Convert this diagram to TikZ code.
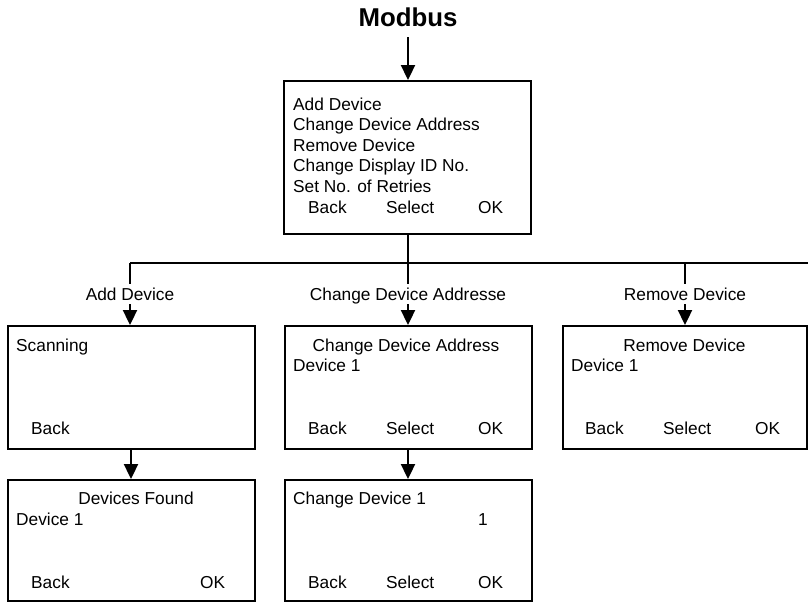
\documentclass[tikz,border=0pt]{standalone}
\usepackage{fontspec}
\setmainfont{Liberation Sans}
\usetikzlibrary{arrows.meta}
\newcommand{\fsz}{\fontsize{17.3}{20.6}\selectfont}
\begin{document}
\begin{tikzpicture}[x=1pt,y=-1pt,
  screen/.style={draw, line width=2.3pt, inner sep=0pt, anchor=north west, minimum width=247pt},
  txt/.style={inner sep=0pt, anchor=base west, font=\fsz},
  ctxt/.style={inner sep=0pt, anchor=base, font=\fsz},
  lbl/.style={inner sep=0pt, outer sep=4pt, text height=12pt, text depth=0pt, anchor=base, font=\fsz},
  conn/.style={line width=2.3pt},
  arr/.style={line width=2.3pt, -{Triangle[length=15pt,width=14pt]}}]
\useasboundingbox (0,0) rectangle (808,603);

% title
\node[inner sep=0pt, anchor=base, font=\fontsize{25.8}{30}\selectfont\bfseries] (title) at (408,26) {Modbus};
\coordinate (tstart) at (408,37);

% main box
\node[screen, minimum height=153pt] (main) at (283,80) {};
\node[txt] (m1) at (293,110) {Add Device};
\node[txt] (m2) at (293,130.6) {Change Device Address};
\node[txt] (m3) at (293,151.2) {Remove Device};
\node[txt] (m4) at (293,171.8) {Change Display ID No.};
\node[txt] (m5) at (293,192.4) {Set No. of Retries};
\node[txt] (mb) at (308,213) {Back};
\node[txt] (ms) at (386,213) {Select};
\node[txt] (mo) at (478,213) {OK};

\draw[arr] (tstart) -- (main.north -| tstart);

% branch line
\coordinate (bm) at (408,263);
\coordinate (ba) at (130,263);
\coordinate (bc) at (685,263);
\coordinate (be) at (808,263);
\draw[conn] (main.south -| bm) -- (bm);
\draw[conn] (ba) -- (be);

% labels
\node[lbl] (la) at (130,300) {Add Device};
\node[lbl] (lb) at (408,300) {Change Device Addresse};
\node[lbl] (lc) at (685,300) {Remove Device};

% row 2 boxes
\node[screen, minimum height=123pt] (boxa) at (7,325) {};
\node[screen, minimum height=123pt] (boxb) at (284,325) {};
\node[screen, minimum height=123pt, minimum width=244pt] (boxc) at (562,325) {};

\draw[conn] (ba) -- (la.north);
\draw[arr] (la.south) -- (la.south |- boxa.north);
\draw[conn] (bm) -- (lb.north);
\draw[arr] (lb.south) -- (lb.south |- boxb.north);
\draw[conn] (bc) -- (lc.north);
\draw[arr] (lc.south) -- (lc.south |- boxc.north);

\node[txt] (a1) at (16,351) {Scanning};
\node[txt] (ab) at (31,434) {Back};

\node[ctxt] (b1) at (406,351) {Change Device Address};
\node[txt] (b2) at (293,371) {Device 1};
\node[txt] (bb) at (308,434) {Back};
\node[txt] (bs) at (386,434) {Select};
\node[txt] (bo) at (478,434) {OK};

\node[ctxt] (c1) at (684.5,351) {Remove Device};
\node[txt] (c2) at (571,371) {Device 1};
\node[txt] (cb) at (585,434) {Back};
\node[txt] (cs) at (663,434) {Select};
\node[txt] (co) at (755,434) {OK};

% row 3 boxes
\node[screen, minimum height=121pt] (boxd) at (7,479) {};
\node[screen, minimum height=121pt] (boxe) at (284,479) {};

\coordinate (da) at (131,0);
\draw[arr] (boxa.south -| da) -- (boxd.north -| da);
\draw[arr] (boxb.south -| bm) -- (boxe.north -| bm);

\node[ctxt] (d1) at (136,504) {Devices Found};
\node[txt] (d2) at (16,525) {Device 1};
\node[txt] (db) at (31,588) {Back};
\node[txt] (do) at (200,588) {OK};

\node[txt] (e1) at (293,504) {Change Device 1};
\node[txt] (e2) at (478,525) {1};
\node[txt] (eb) at (308,588) {Back};
\node[txt] (es) at (386,588) {Select};
\node[txt] (eo) at (478,588) {OK};
\end{tikzpicture}
\end{document}
